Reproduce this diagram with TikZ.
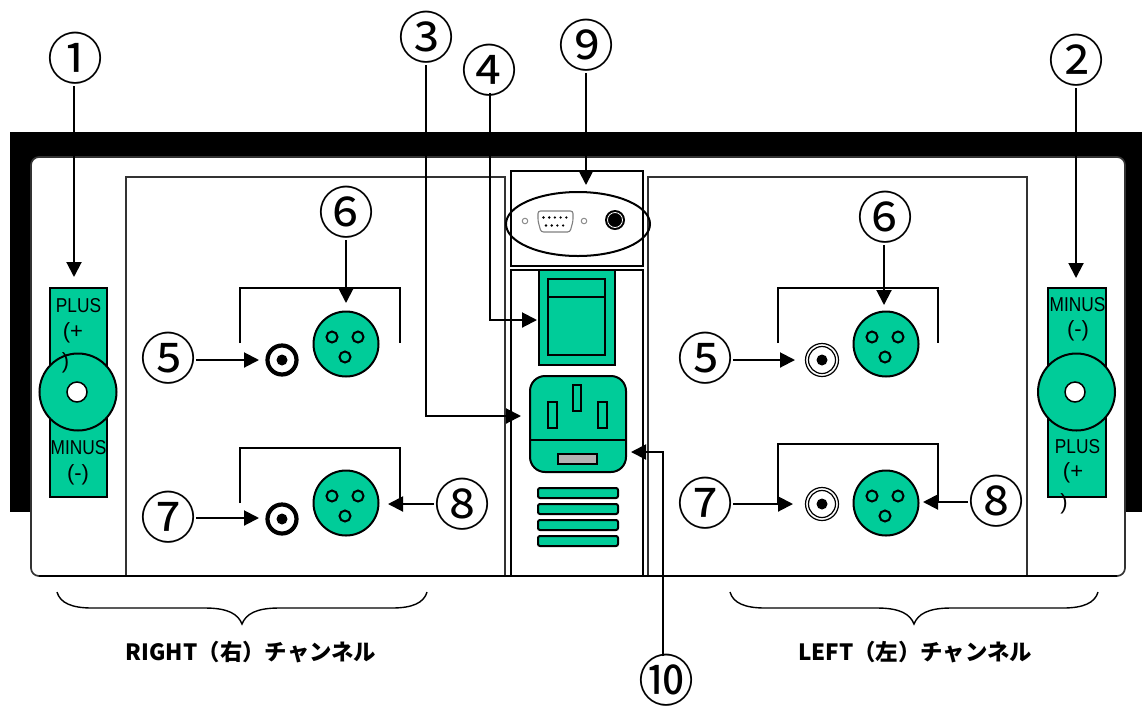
\documentclass[tikz,border=0pt]{standalone}
\usepackage{fontspec}
\setmainfont{Liberation Sans}
\newfontfamily\cjk{Noto Sans CJK JP}
\usetikzlibrary{arrows.meta,shapes.geometric}
\definecolor{grn}{HTML}{00CC99}
\newcommand{\circnum}[1]{\fontsize{56}{56}\selectfont\cjk\makebox[0pt][c]{\raisebox{-0.38em}[0pt][0pt]{#1}}}
\newcommand{\tall}[1]{\scalebox{1}[1.16]{#1}}
\tikzset{
  x=1pt,y=-1pt,
  num/.style={circle,inner sep=0pt,outer sep=3pt,minimum size=50pt},
  conn/.style={line width=2pt,-{Triangle[length=15pt,width=15pt]}},
  brack/.style={line width=2pt,line join=miter},
  frameline/.style={draw=black!80,line width=1.7pt},
  innerline/.style={draw=black,line width=2pt},
  gr/.style={fill=grn,draw=black,line width=2pt},
  xlrbody/.style={circle,gr,inner sep=0pt,minimum size=65pt},
  hole/.style={circle,gr,inner sep=0pt,minimum size=11pt},
  lab/.style={inner sep=0pt,font=\fontsize{17.3}{17.3}\selectfont},
  labbig/.style={inner sep=0pt,font=\fontsize{22}{22}\selectfont},
  chan/.style={inner sep=0pt,font=\fontsize{22.4}{22.4}\selectfont\cjk\bfseries},
  vent/.style={gr,rounded corners=2pt},
  dot/.style={circle,fill=black,inner sep=0pt,minimum size=2.6pt},
}
\newcommand{\xlr}[3]{%
  \node[xlrbody] (#1) at (#2,#3) {};
  \node[hole] (#1a) at (#2-14,#3-7) {};
  \node[hole] (#1b) at (#2+12,#3-7) {};
  \node[hole] (#1c) at (#2-1,#3+13) {};
}
\begin{document}
\begin{tikzpicture}
\useasboundingbox (0,0) rectangle (1142,705);
% chassis
\fill[black] (10,132) rectangle (1142,512);
\draw[frameline,fill=white,rounded corners=8pt] (31,157) rectangle (1125,576);
\fill[white] (0,512) rectangle (30.1,560);
% bays
\draw[frameline] (126,576) -- (126,177) -- (505,177) -- (505,576);
\draw[frameline] (648,576) -- (648,177) -- (1027,177) -- (1027,576);
\draw[innerline] (511,266) rectangle (643,171);
\draw[innerline] (511,576) -- (511,269.5) -- (643,269.5) -- (643,576);
\draw[line width=1.5pt] (39,576) -- (1117,576);
% D-sub panel
\node[draw=black,line width=2pt,ellipse,minimum width=144pt,minimum height=64pt,inner sep=0pt] (oval) at (578,224) {};
\node[circle,draw=black!45,line width=1pt,inner sep=0pt,minimum size=5.5pt] (s1) at (525,221) {};
\node[circle,draw=black!45,line width=1pt,inner sep=0pt,minimum size=5.5pt] (s2) at (584,221) {};
\draw[draw=black!50,line width=1.1pt,rounded corners=2.5pt] (538,211) -- (573,211) -- (573,221) -- (570,232) -- (541,232) -- (538,221) -- cycle;
\foreach \i in {0,...,4} \node[dot] (da\i) at (543.5+5.7*\i,217.5) {};
\foreach \i in {0,...,3} \node[dot] (db\i) at (546+5.7*\i,225.5) {};
\node[circle,fill=black,inner sep=0pt,minimum size=20pt] (jackout) at (615,220) {};
\node[circle,draw=white,line width=.8pt,fill=black,inner sep=0pt,minimum size=15pt] (jack) at (615,220) {};
% switch
\draw[gr] (539,270) rectangle (615,365);
\draw[gr] (548,279) rectangle (605,355);
\draw[gr] (548,297) -- (605,297);
% inlet
\draw[gr,rounded corners=15pt] (530,376) rectangle (626,472);
\draw[gr] (530,440) -- (626,440);
\draw[gr] (572.5,385) rectangle (581,411);
\draw[gr] (548,402) rectangle (556.5,428);
\draw[gr] (598,402) rectangle (606.5,428);
\draw[line width=1.8pt,fill=black!30] (558,454) rectangle (597,464);
\foreach \yy in {488,504,520,536} \draw[vent] (538,\yy) rectangle (618,\yy+10);
% terminal blocks
\draw[gr] (50,288) rectangle (107,497);
\node[lab] (t1) at (78.5,306) {\tall{PLUS}};
\node[labbig] (t2) at (73,333) {(+};
\node[lab] (t4) at (78.5,448) {\tall{MINUS}};
\node[labbig] (t5) at (78,475) {(-)};
\node[circle,gr,inner sep=0pt,minimum size=77pt] (postR) at (78,392) {};
\node[circle,fill=white,draw=black,line width=1.5pt,inner sep=0pt,minimum size=20pt] (holeR) at (77,392) {};
\node[labbig] (t3) at (65.5,363) {)};
\draw[gr] (1048,288) rectangle (1106,497);
\node[lab] (t6) at (1077.5,305) {\tall{MINUS}};
\node[labbig] (t7) at (1078,331) {(-)};
\node[lab] (t8) at (1077.5,447) {\tall{PLUS}};
\node[labbig] (t9) at (1073,473) {(+};
\node[labbig] (t10) at (1064,504) {)};
\node[circle,gr,inner sep=0pt,minimum size=77pt] (postL) at (1076.5,392) {};
\node[circle,fill=white,draw=black,line width=1.5pt,inner sep=0pt,minimum size=20pt] (holeL) at (1075,392) {};
% connectors
\xlr{xa}{346}{344}
\xlr{xb}{346}{503}
\xlr{xc}{886}{344}
\xlr{xd}{886}{503}
\node[circle,draw=black,line width=4.2pt,fill=white,inner sep=0pt,minimum size=29pt] (ra) at (282,360) {};
\node[circle,fill=black,inner sep=0pt,minimum size=11pt] (rad) at (282,360) {};
\node[circle,draw=black,line width=4.2pt,fill=white,inner sep=0pt,minimum size=29pt] (rb) at (282,519) {};
\node[circle,fill=black,inner sep=0pt,minimum size=11pt] (rbd) at (282,519) {};
\node[circle,draw=black,line width=1.2pt,fill=white,inner sep=0pt,minimum size=33pt] (rc) at (822,360) {};
\node[circle,draw=black,line width=1.2pt,inner sep=0pt,minimum size=27pt] (rci) at (822,360) {};
\node[circle,fill=black,inner sep=0pt,minimum size=11pt] (rcd) at (822,360) {};
\node[circle,draw=black,line width=1.2pt,fill=white,inner sep=0pt,minimum size=33pt] (rd) at (822,504) {};
\node[circle,draw=black,line width=1.2pt,inner sep=0pt,minimum size=27pt] (rdi) at (822,504) {};
\node[circle,fill=black,inner sep=0pt,minimum size=11pt] (rdd) at (822,504) {};
% brackets
\draw[brack] (240,343) -- (240,288) -- (400,288) -- (400,343);
\draw[brack] (240,503) -- (240,448) -- (400,448) -- (400,503);
\draw[brack] (778,343) -- (778,288) -- (938,288) -- (938,343);
\draw[brack] (778,504) -- (778,444) -- (938,444) -- (938,503);
% numbers
\node[num] (n1) at (75,58) {\circnum{①}};
\node[num] (n2) at (1076,60) {\circnum{②}};
\node[num] (n3) at (426,37) {\circnum{③}};
\node[num] (n4) at (489,70) {\circnum{④}};
\node[num] (n9) at (586,45) {\circnum{⑨}};
\node[num] (n10) at (666,680) {\circnum{⑩}};
\node[num] (n5a) at (168,358) {\circnum{⑤}};
\node[num] (n6a) at (346,212) {\circnum{⑥}};
\node[num] (n7a) at (168,517) {\circnum{⑦}};
\node[num] (n8a) at (462,504) {\circnum{⑧}};
\node[num] (n5b) at (705,358) {\circnum{⑤}};
\node[num] (n6b) at (885,217) {\circnum{⑥}};
\node[num] (n7b) at (705,503) {\circnum{⑦}};
\node[num] (n8b) at (996,501) {\circnum{⑧}};
% arrow targets
\coordinate (a1) at (74,277);
\coordinate (a2) at (1076,278);
\coordinate (a3) at (521,416);
\coordinate (a4) at (537,320);
\coordinate (a4s) at (490,93);
\coordinate (a9) at (586,185);
\coordinate (a10) at (631,452);
\coordinate (a10s) at (663,656);
\coordinate (a5a) at (259,360);
\coordinate (a6a) at (346,303);
\coordinate (a7a) at (259,518);
\coordinate (a8a) at (388,504);
\coordinate (a5b) at (795,360);
\coordinate (a6b) at (884,305);
\coordinate (a7b) at (793,504);
\coordinate (a8b) at (923,502);
\draw[conn] (n1.south -| a1) -- (a1);
\draw[conn] (n2) -- (a2);
\draw[conn] (n3) |- (a3);
\draw[conn] (a4s) |- (a4);
\draw[conn] (n9) -- (a9);
\draw[conn] (a10s) |- (a10);
\draw[conn] (n5a.east |- a5a) -- (a5a);
\draw[conn] (n6a) -- (a6a);
\draw[conn] (n7a.east |- a7a) -- (a7a);
\draw[conn] (n8a) -- (a8a);
\draw[conn] (n5b.east |- a5b) -- (a5b);
\draw[conn] (n6b.south -| a6b) -- (a6b);
\draw[conn] (n7b.east |- a7b) -- (a7b);
\draw[conn] (n8b.west |- a8b) -- (a8b);
% braces
\draw[line width=1.4pt] (57,592) .. controls (60,603) and (72,608) .. (92,608) -- (205,608) .. controls (228,608) and (238,614) .. (242,624) .. controls (246,614) and (256,608) .. (279,608) -- (392,608) .. controls (412,608) and (424,603) .. (427,592);
\draw[line width=1.4pt] (730,592) .. controls (733,603) and (745,608) .. (765,608) -- (877,608) .. controls (900,608) and (910,614) .. (914,624) .. controls (918,614) and (928,608) .. (951,608) -- (1063,608) .. controls (1083,608) and (1095,603) .. (1098,592);
\node[chan] (cr) at (251,652) {RIGHT（右）チャンネル};
\node[chan] (cl) at (915,652) {LEFT（左）チャンネル};
\end{tikzpicture}
\end{document}
